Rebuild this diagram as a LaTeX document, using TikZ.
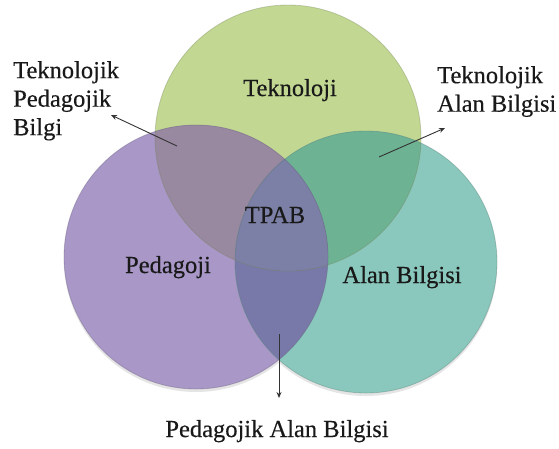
\documentclass[tikz,border=0pt]{standalone}
\usepackage{fontspec}
\setmainfont{Liberation Serif}
\newfontfamily\lblfont{Liberation Serif}[FakeBold=0.35]
\usetikzlibrary{arrows.meta}

\begin{document}
\begin{tikzpicture}[x=1pt,y=-1pt,
  lbl/.style={font=\lblfont\fontsize{24.5}{28.5}\selectfont, text=black!90, inner sep=0pt},
  pointer/.style={draw=black!80, line width=0.9pt, -{Stealth[length=6pt,width=5pt]}}]
\definecolor{cg}{RGB}{194,216,146}
\definecolor{cp}{RGB}{168,151,199}
\definecolor{ct}{RGB}{138,200,189}
\definecolor{cgp}{RGB}{152,136,160}
\definecolor{cgt}{RGB}{110,178,148}
\definecolor{cpt}{RGB}{120,121,168}
\definecolor{cgpt}{RGB}{124,128,166}
\useasboundingbox (0,0) rectangle (559,448);
\coordinate (tek) at (288,138);
\coordinate (ped) at (196,257);
\coordinate (ala) at (366,262);
\fill[black!10] (ped) ++(0,3) circle (132pt);
\fill[black!10] (ala) ++(0,3) circle (131pt);
\fill[cg] (tek) circle (133pt);
\fill[cp] (ped) circle (132pt);
\fill[ct] (ala) circle (131pt);
\begin{scope}
\clip (tek) circle (133pt);
\fill[cgp] (ped) circle (132pt);
\fill[cgt] (ala) circle (131pt);
\end{scope}
\begin{scope}
\clip (ped) circle (132pt);
\fill[cpt] (ala) circle (131pt);
\clip (ala) circle (131pt);
\fill[cgpt] (tek) circle (133pt);
\end{scope}
\draw[cg!60!black, opacity=0.35, line width=0.8pt] (tek) circle (133pt);
\draw[cp!60!black, opacity=0.35, line width=0.8pt] (ped) circle (132pt);
\draw[ct!60!black, opacity=0.35, line width=0.8pt] (ala) circle (131pt);
\node[lbl, anchor=base] (tekLbl) at (290,96) {Teknoloji};
\node[lbl, anchor=base] (tpab) at (275,223) {TPAB};
\node[lbl, anchor=base] (pedLbl) at (168,273) {Pedagoji};
\node[lbl, anchor=base] (alaLbl) at (402,283) {Alan Bilgisi};
\node[lbl, anchor=north west, align=left] (tpb) at (13,61) {Teknolojik\\Pedagojik\\Bilgi};
\node[lbl, anchor=north west, align=left] (tab) at (437,66) {Teknolojik\\Alan Bilgisi};
\node[lbl, anchor=base] (pab) at (277,437) {Pedagojik Alan Bilgisi};
\coordinate (tpbFrom) at (177,146);
\coordinate (tpbTo) at (111,115);
\coordinate (tabFrom) at (379,157);
\coordinate (tabTo) at (445,128);
\coordinate (pabFrom) at (279,334);
\coordinate (pabTo) at (279,398);
\draw[pointer] (tpbFrom) -- (tpbTo);
\draw[pointer] (tabFrom) -- (tabTo);
\draw[pointer] (pabFrom) -- (pabTo);
\end{tikzpicture}
\end{document}
